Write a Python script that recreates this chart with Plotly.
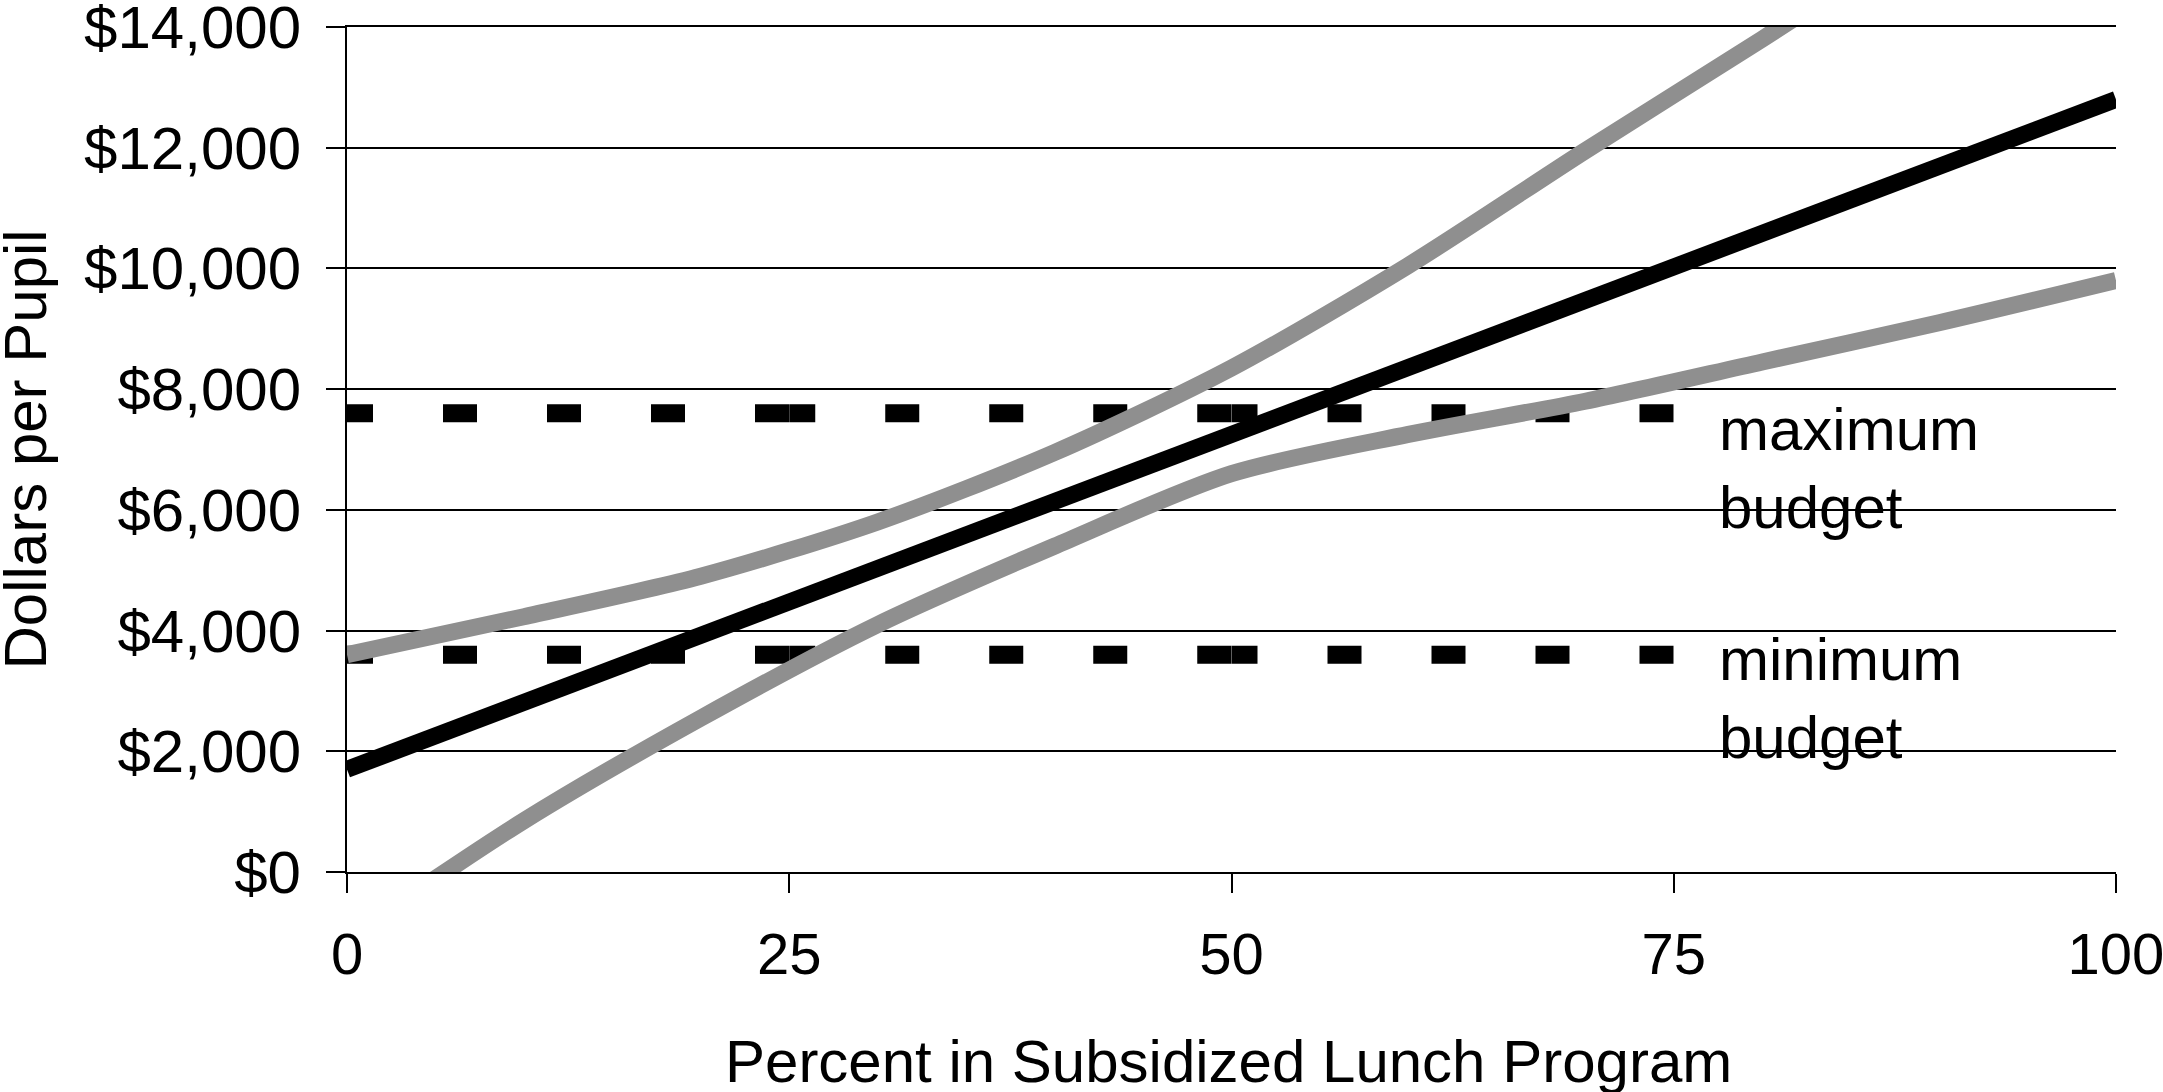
import plotly.graph_objects as go

# percent in subsidized lunch program vs dollars per pupil
pct = [0, 10, 20, 30, 40, 50, 60, 70, 80, 90, 100]
upper_band = [3600, 4230, 4900, 5800, 6950, 8350, 10050, 11950, 13800, 15700, 17600]
lower_band = [-1100, 850, 2550, 4100, 5400, 6600, 7250, 7800, 8450, 9100, 9800]

trend_pct = [0, 100]
trend = [1700, 12800]

budget_pct = [0, 25, 50, 75]
max_budget = [7600, 7600, 7600, 7600]
min_budget = [3600, 3600, 3600, 3600]

y_ticks = [0, 2000, 4000, 6000, 8000, 10000, 12000, 14000]
y_labels = [f"${v:,}" for v in y_ticks]
x_ticks = [0, 25, 50, 75, 100]

FONT = "Liberation Sans, Arial, sans-serif"
GRAY = "#8f8f8f"
DASH = "26px,70px,34px,70px,34px,70px,34px,70px,34px,70px"

fig = go.Figure()

# budget lines: dash pattern restarts at every data point, like the original
for budget in (max_budget, min_budget):
    for i in range(len(budget_pct) - 1):
        fig.add_trace(go.Scatter(
            x=budget_pct[i:i + 2], y=budget[i:i + 2], mode='lines',
            line=dict(color='black', width=18, dash=DASH),
            showlegend=False, hoverinfo='skip'))

for band in (upper_band, lower_band):
    fig.add_trace(go.Scatter(
        x=pct, y=band, mode='lines',
        line=dict(color=GRAY, width=17, shape='spline', smoothing=0.8),
        showlegend=False))

fig.add_trace(go.Scatter(
    x=trend_pct, y=trend, mode='lines',
    line=dict(color='black', width=17), showlegend=False))

fig.add_annotation(x=75, y=max_budget[-1], text="maximum<br>budget",
                   showarrow=False, xanchor='left', yanchor='top', align='left',
                   xshift=43, yshift=19, font=dict(size=60, color='black'))
fig.add_annotation(x=75, y=min_budget[-1], text="minimum<br>budget",
                   showarrow=False, xanchor='left', yanchor='top', align='left',
                   xshift=43, yshift=31, font=dict(size=60, color='black'))

# axis titles as annotations so they can sit right at the page edges
fig.add_annotation(x=0, y=0.5, xref='paper', yref='paper', text="Dollars per Pupil",
                   textangle=-90, showarrow=False, xanchor='center', yanchor='middle',
                   xshift=-322, font=dict(size=60, color='black'))
fig.add_annotation(x=0.5, y=0, xref='paper', yref='paper',
                   text="Percent in Subsidized Lunch Program",
                   showarrow=False, xanchor='center', yanchor='top',
                   xshift=-3, yshift=-154, font=dict(size=60, color='black'))

fig.update_layout(
    width=2163, height=1092,
    margin=dict(l=347, r=47, t=27, b=220, autoexpand=False),
    paper_bgcolor='white', plot_bgcolor='white',
    font=dict(family=FONT, size=60, color='black'),
    xaxis=dict(
        range=[0, 100], tickvals=x_ticks, showgrid=False, zeroline=False,
        showline=True, mirror=True, linecolor='black', linewidth=2,
        ticks='outside', ticklen=19, tickwidth=2, tickcolor='black',
        tickfont=dict(size=58),
        ticklabeloverflow='allow', ticklabelstandoff=11, automargin=False,
    ),
    yaxis=dict(
        range=[0, 14000], tickvals=y_ticks, ticktext=y_labels,
        showgrid=True, gridcolor='black', gridwidth=2, zeroline=False,
        showline=True, linecolor='black', linewidth=2,
        ticks='outside', ticklen=19, tickwidth=2, tickcolor='black',
        ticklabeloverflow='allow', ticklabelstandoff=13, automargin=False,
    ),
)

# drop the default 8px body margin so the figure fills the window exactly
fig.write_html("out.html", config={'displayModeBar': False},
               post_script="document.body.style.margin = '0';")
